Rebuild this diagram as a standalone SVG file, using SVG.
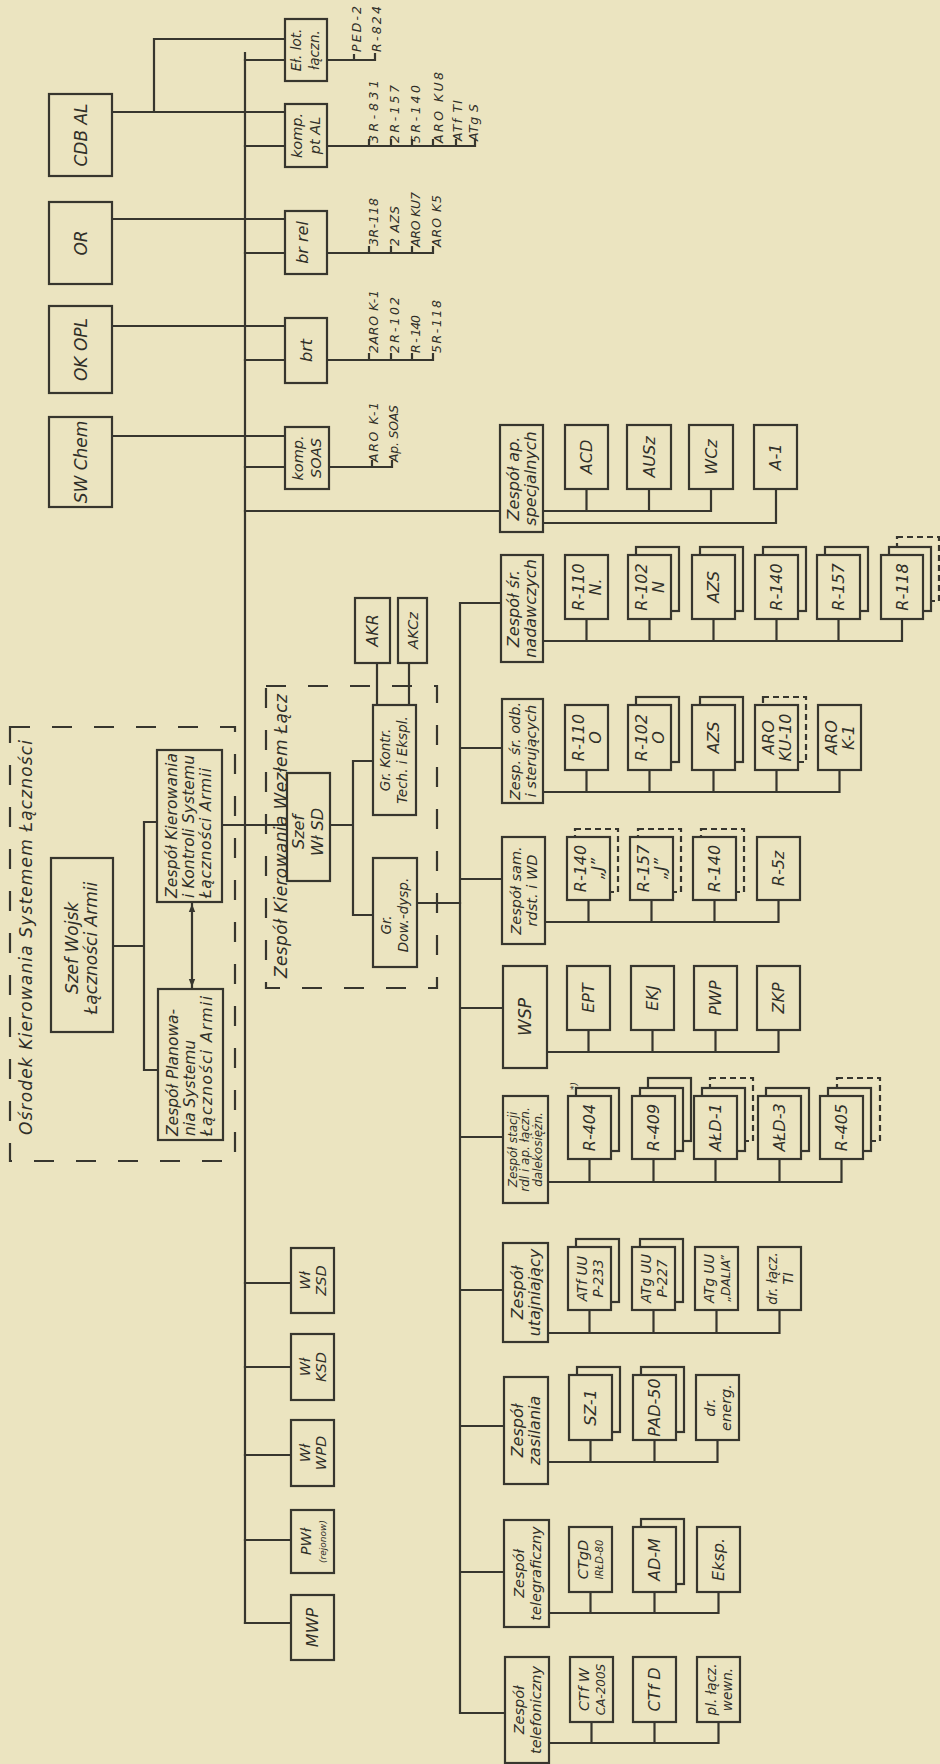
<svg xmlns="http://www.w3.org/2000/svg" width="940" height="1764" viewBox="0 0 940 1764">
<style>
.b{fill:#ebe4c0;stroke:#37362e;stroke-width:2.2}
.bd{fill:#ebe4c0;stroke:#37362e;stroke-width:2.2;stroke-dasharray:6 4}
.ln{fill:none;stroke:#37362e;stroke-width:2.2;stroke-linecap:square}
.dg{fill:none;stroke:#37362e;stroke-width:2.2;stroke-dasharray:20 22}
.t{font-family:"DejaVu Sans","Liberation Sans",sans-serif;font-style:italic;fill:#302f28;text-anchor:middle}
.st{text-anchor:start}
.s17{font-size:17px}.s16{font-size:16px}.s15{font-size:16px}.s14{font-size:14.5px}.s13{font-size:13.5px}.s12{font-size:12px}.s11{font-size:12.5px}.s10{font-size:10px}.s9{font-size:9px}
.k{font-size:15.5px}
</style>
<defs>
<marker id="ah" viewBox="0 0 10 10" refX="10" refY="5" markerWidth="8" markerHeight="8" markerUnits="userSpaceOnUse" orient="auto-start-reverse"><path d="M0,1 L10,5 L0,9 z" fill="#37362e"/></marker>
</defs>
<rect x="0" y="0" width="940" height="1764" fill="#ebe4c0"/>

<g id="connectors">
<path class="ln" d="M245 53 V1623"/>
<path class="ln" d="M154 112 V39 H285 M112 112 H285 M245 60 H285 M245 146 H285 M112 219 H285 M245 253 H285 M112 326 H285 M245 360 H285 M112 436 H285 M245 467 H285 M245 511 H500"/>
<path class="ln" d="M327 60 H375 V54 M354 60 V55"/>
<path class="ln" d="M326 146 H475 V140 M369 146 V140 M391 146 V140 M412 146 V140 M433 146 V140 M456 146 V140"/>
<path class="ln" d="M327 253 H433 V247 M369 253 V247 M391 253 V247 M412 253 V247"/>
<path class="ln" d="M327 360 H433 V354 M369 360 V354 M391 360 V354 M412 360 V354"/>
<path class="ln" d="M329 467 H392 V461 M372 467 V461"/>
<path class="ln" d="M113 946 H144 M144 822 V1070 M144 822 H157 M144 1070 H158 M222 825 H287"/>
<path class="ln" d="M192 904 V987" marker-start="url(#ah)" marker-end="url(#ah)"/>
<path class="ln" d="M330 825 H353 M353 761 V915 M353 761 H373 M353 915 H373 M417 903 H460 M377 663 V705 M409 663 V705"/>
<path class="ln" d="M460 603 V1713 M460 603 H501 M460 748 H502 M460 879 H502 M460 1008 H503 M460 1137 H503 M460 1290 H503 M460 1426 H504 M460 1572 H504 M460 1713 H505"/>
<path class="ln" d="M543 511 H711 M586.5 489 V511 M649 489 V511 M711 489 V511 M543 523 H776 M776 489 V523"/>
<path class="ln" d="M543 641 H902 M586.5 619 V641 M649.5 619 V641 M713.5 619 V641 M776.5 619 V641 M838.5 619 V641 M902 619 V641"/>
<path class="ln" d="M543 792 H839.5 M586.5 770 V792 M649.5 770 V792 M713.5 770 V792 M776.5 770 V792 M839.5 770 V792"/>
<path class="ln" d="M545 922 H778.5 M588.5 900 V922 M651.5 900 V922 M714.5 900 V922 M778.5 900 V922"/>
<path class="ln" d="M547 1052 H778.5 M588.5 1030 V1052 M652.5 1030 V1052 M715.5 1030 V1052 M778.5 1030 V1052"/>
<path class="ln" d="M548 1182 H841.5 M589.5 1159 V1182 M653.5 1159 V1182 M715.5 1159 V1182 M779.5 1159 V1182 M841.5 1159 V1182"/>
<path class="ln" d="M548 1333 H779.5 M589.5 1310 V1333 M653.5 1310 V1333 M716.5 1310 V1333 M779.5 1310 V1333"/>
<path class="ln" d="M548 1462 H717.5 M590.5 1440 V1462 M654.5 1440 V1462 M717.5 1440 V1462"/>
<path class="ln" d="M549 1613 H718.5 M590.5 1592 V1613 M654.5 1592 V1613 M718.5 1592 V1613"/>
<path class="ln" d="M549 1743 H718.5 M591.5 1722 V1743 M654.5 1722 V1743 M718.5 1722 V1743"/>
<path class="ln" d="M245 1283 H291 M245 1367 H291 M245 1455 H291 M245 1540 H291 M245 1623 H291"/>
</g>

<g id="grp-osrodek">
<rect class="dg" x="10" y="727" width="225" height="434"/>
<text class="t st s17" transform="translate(32 1135) rotate(-90)" textLength="395">Ośrodek Kierowania Systemem Łączności</text>
</g>
<g id="grp-wezel">
<rect class="dg" x="266" y="686" width="171" height="302"/>
<text class="t st s17" transform="translate(287 978) rotate(-90)" textLength="284">Zespół Kierowania Węzłem Łącz</text>
</g>

<g id="lists">
<text class="t st s11" transform="translate(361 52) rotate(-90)" textLength="46">PED-2</text>
<text class="t st s11" transform="translate(381 52) rotate(-90)" textLength="46">R-824</text>
<text class="t st s11" transform="translate(378 143) rotate(-90)" textLength="63">3R-831</text>
<text class="t st s11" transform="translate(399 143) rotate(-90)" textLength="58">2R-157</text>
<text class="t st s11" transform="translate(420 143) rotate(-90)" textLength="58">5R-140</text>
<text class="t st s11" transform="translate(443 143) rotate(-90)" textLength="71">ARO KU8</text>
<text class="t st s11" transform="translate(462 141) rotate(-90)" textLength="41">ATf TI</text>
<text class="t st s11" transform="translate(478 141) rotate(-90)" textLength="37">ATg S</text>
<text class="t st s11" transform="translate(378 246) rotate(-90)" textLength="48">3R-118</text>
<text class="t st s11" transform="translate(399 246) rotate(-90)" textLength="40">2 AZS</text>
<text class="t st s11" transform="translate(420 247) rotate(-90)" textLength="55">ARO KU7</text>
<text class="t st s11" transform="translate(441 247) rotate(-90)" textLength="52">ARO K5</text>
<text class="t st s11" transform="translate(378 353) rotate(-90)" textLength="63">2ARO K-1</text>
<text class="t st s11" transform="translate(399 353) rotate(-90)" textLength="56">2R-102</text>
<text class="t st s11" transform="translate(420 353) rotate(-90)" textLength="38">R - 140</text>
<text class="t st s11" transform="translate(441 353) rotate(-90)" textLength="53">5R-118</text>
<text class="t st s11" transform="translate(378 462) rotate(-90)" textLength="60">ARO K-1</text>
<text class="t st s11" transform="translate(398 462) rotate(-90)" textLength="57">Ap. SOAS</text>
</g>

<g id="n-cdbal"><rect class="b" x="49" y="94" width="63" height="82"/><text class="t s17" transform="translate(81 135) rotate(-90)" y="6">CDB AL</text></g>
<g id="n-or"><rect class="b" x="49" y="202" width="63" height="82"/><text class="t s17" transform="translate(81 243) rotate(-90)" y="6">OR</text></g>
<g id="n-okopl"><rect class="b" x="49" y="306" width="63" height="87"/><text class="t s17" transform="translate(81 349.5) rotate(-90)" y="6">OK OPL</text></g>
<g id="n-swchem"><rect class="b" x="49" y="417" width="63" height="90"/><text class="t s17" transform="translate(81 462) rotate(-90)" y="6">SW Chem</text></g>

<g id="n-ellot"><rect class="b" x="285" y="19" width="42" height="62"/><text class="t s13" transform="translate(306 50) rotate(-90)"><tspan x="0" y="-5.5">Eł. lot.</tspan><tspan x="0" y="12.5">łączn.</tspan></text></g>
<g id="n-komppt"><rect class="b" x="285" y="104" width="42" height="63"/><text class="t s14" transform="translate(306 135.5) rotate(-90)"><tspan x="0" y="-4">komp.</tspan><tspan x="0" y="13.5">pt AL</tspan></text></g>
<g id="n-brrel"><rect class="b" x="285" y="211" width="42" height="63"/><text class="t s15" transform="translate(306 242.5) rotate(-90)" y="2">br rel</text></g>
<g id="n-brt"><rect class="b" x="285" y="318" width="42" height="65"/><text class="t s16" transform="translate(306 350.5) rotate(-90)" y="5.5">brt</text></g>
<g id="n-kompsoas"><rect class="b" x="285" y="427" width="44" height="62"/><text class="t s14" transform="translate(307 458) rotate(-90)"><tspan x="0" y="-4">komp.</tspan><tspan x="0" y="13.5">SOAS</tspan></text></g>

<g id="n-szefwojsk"><rect class="b" x="51" y="858" width="62" height="174"/><text class="t s17" transform="translate(82 948) rotate(-90)"><tspan x="0" y="-4.5">Szef Wojsk</tspan><tspan x="0" y="15">Łączności Armii</tspan></text></g>
<g id="n-kierowania"><rect class="b" x="157" y="750" width="65" height="152"/><text class="t st k" transform="translate(189.5 898) rotate(-90)"><tspan x="0" y="-12.5" textLength="145">Zespół Kierowania</tspan><tspan x="0" y="4.5" textLength="143">i Kontroli Systemu</tspan><tspan x="0" y="21.5" textLength="130">Łączności Armii</tspan></text></g>
<g id="n-planowania"><rect class="b" x="158" y="989" width="65" height="151"/><text class="t st k" transform="translate(190.5 1136) rotate(-90)"><tspan x="0" y="-12.5">Zespół Planowa-</tspan><tspan x="0" y="4.5">nia Systemu</tspan><tspan x="0" y="21.5" textLength="140">Łączności Armii</tspan></text></g>

<g id="n-szefsd"><rect class="b" x="287" y="773" width="43" height="108"/><text class="t s15" transform="translate(309 832) rotate(-90)"><tspan x="0" y="-5">Szef</tspan><tspan x="0" y="14">Wł SD</tspan></text></g>
<g id="n-grkontr"><rect class="b" x="373" y="705" width="43" height="110"/><text class="t s13" transform="translate(394.5 760) rotate(-90)"><tspan x="0" y="-4.5">Gr. Kontr.</tspan><tspan x="0" y="12.5">Tech. i Ekspl.</tspan></text></g>
<g id="n-grdow"><rect class="b" x="373" y="858" width="44" height="109"/><text class="t s13" transform="translate(395 912) rotate(-90)"><tspan x="-13" y="-4.5">Gr.</tspan><tspan x="-3" y="12.5">Dow.-dysp.</tspan></text></g>
<g id="n-akr"><rect class="b" x="355" y="598" width="35" height="65"/><text class="t s15" transform="translate(372.5 630.5) rotate(-90)" y="5">AKR</text></g>
<g id="n-akcz"><rect class="b" x="398" y="598" width="29" height="65"/><text class="t s14" transform="translate(412.5 630.5) rotate(-90)" y="5">AKCz</text></g>

<g id="n-zap"><rect class="b" x="500" y="425" width="43" height="107"/><text class="t s15" transform="translate(521.5 478.5) rotate(-90)"><tspan x="0" y="-3">Zespół ap.</tspan><tspan x="0" y="14">specjalnych</tspan></text></g>
<g id="n-znad"><rect class="b" x="501" y="555" width="42" height="107"/><text class="t s15" transform="translate(522 608.5) rotate(-90)"><tspan x="0" y="-3">Zespół śr.</tspan><tspan x="0" y="14">nadawczych</tspan></text></g>
<g id="n-zodb"><rect class="b" x="502" y="699" width="41" height="104"/><text class="t s14" transform="translate(522.5 751) rotate(-90)"><tspan x="0" y="-3">Zesp. śr. odb.</tspan><tspan x="0" y="13.5">i sterujących</tspan></text></g>
<g id="n-zsam"><rect class="b" x="502" y="837" width="43" height="107"/><text class="t s14" transform="translate(523.5 890.5) rotate(-90)"><tspan x="0" y="-3">Zespół sam.</tspan><tspan x="0" y="13.5">rdst. i WD</tspan></text></g>
<g id="n-wsp"><rect class="b" x="503" y="966" width="44" height="102"/><text class="t s17" transform="translate(525 1017) rotate(-90)" y="6">WSP</text></g>
<g id="n-zstacji"><rect class="b" x="503" y="1096" width="45" height="107"/><text class="t s12" transform="translate(525.5 1149.5) rotate(-90)"><tspan x="0" y="-9">Zespół stacji</tspan><tspan x="0" y="3.5">rdl i ap. łączn.</tspan><tspan x="0" y="16">dalekosiężn.</tspan></text></g>
<g id="n-zutaj"><rect class="b" x="503" y="1243" width="45" height="99"/><text class="t s15" transform="translate(525.5 1292.5) rotate(-90)"><tspan x="0" y="-3">Zespół</tspan><tspan x="0" y="14">utajniający</tspan></text></g>
<g id="n-zzasil"><rect class="b" x="504" y="1377" width="44" height="107"/><text class="t s15" transform="translate(526 1430.5) rotate(-90)"><tspan x="0" y="-3">Zespół</tspan><tspan x="0" y="14">zasilania</tspan></text></g>
<g id="n-ztelegr"><rect class="b" x="504" y="1520" width="45" height="107"/><text class="t s14" transform="translate(526.5 1573.5) rotate(-90)"><tspan x="0" y="-3">Zespół</tspan><tspan x="0" y="14">telegraficzny</tspan></text></g>
<g id="n-ztelef"><rect class="b" x="505" y="1657" width="44" height="106"/><text class="t s14" transform="translate(527 1710) rotate(-90)"><tspan x="0" y="-3">Zespół</tspan><tspan x="0" y="14">telefoniczny</tspan></text></g>

<g id="n-acd"><rect class="b" x="565" y="425" width="43" height="64"/><text class="t s15" transform="translate(586.5 457) rotate(-90)" y="5.5">ACD</text></g>
<g id="n-ausz"><rect class="b" x="627" y="425" width="44" height="64"/><text class="t s15" transform="translate(649 457) rotate(-90)" y="5.5">AUSz</text></g>
<g id="n-wcz"><rect class="b" x="689" y="425" width="44" height="64"/><text class="t s15" transform="translate(711 457) rotate(-90)" y="5.5">WCz</text></g>
<g id="n-a1"><rect class="b" x="754" y="425" width="43" height="64"/><text class="t s15" transform="translate(775.5 457) rotate(-90)" y="5.5">A-1</text></g>

<g id="n-r110n"><rect class="b" x="565" y="555" width="43" height="64"/><text class="t s15" transform="translate(586.5 587) rotate(-90)"><tspan x="0" y="-3">R-110</tspan><tspan x="0" y="14">N.</tspan></text></g>
<g id="n-r102n"><rect class="b" x="636" y="547" width="43" height="64"/><rect class="b" x="628" y="555" width="43" height="64"/><text class="t s15" transform="translate(649.5 587) rotate(-90)"><tspan x="0" y="-3">R-102</tspan><tspan x="0" y="14">N</tspan></text></g>
<g id="n-azs1"><rect class="b" x="700" y="547" width="43" height="64"/><rect class="b" x="692" y="555" width="43" height="64"/><text class="t s15" transform="translate(713.5 587) rotate(-90)" y="5.5">AZS</text></g>
<g id="n-r140a"><rect class="b" x="763" y="547" width="43" height="64"/><rect class="b" x="755" y="555" width="43" height="64"/><text class="t s15" transform="translate(776.5 587) rotate(-90)" y="5.5">R-140</text></g>
<g id="n-r157a"><rect class="b" x="825" y="547" width="43" height="64"/><rect class="b" x="817" y="555" width="43" height="64"/><text class="t s15" transform="translate(838.5 587) rotate(-90)" y="5.5">R-157</text></g>
<g id="n-r118"><rect class="bd" x="897" y="537" width="42" height="64"/><rect class="b" x="889" y="547" width="42" height="64"/><rect class="b" x="881" y="555" width="42" height="64"/><text class="t s15" transform="translate(902 587) rotate(-90)" y="5.5">R-118</text></g>

<g id="n-r110o"><rect class="b" x="565" y="705" width="43" height="65"/><text class="t s15" transform="translate(586.5 737.5) rotate(-90)"><tspan x="0" y="-3">R-110</tspan><tspan x="0" y="14">O</tspan></text></g>
<g id="n-r102o"><rect class="b" x="636" y="697" width="43" height="65"/><rect class="b" x="628" y="705" width="43" height="65"/><text class="t s15" transform="translate(649.5 737.5) rotate(-90)"><tspan x="0" y="-3">R-102</tspan><tspan x="0" y="14">O</tspan></text></g>
<g id="n-azs2"><rect class="b" x="700" y="697" width="43" height="65"/><rect class="b" x="692" y="705" width="43" height="65"/><text class="t s15" transform="translate(713.5 737.5) rotate(-90)" y="5.5">AZS</text></g>
<g id="n-aroku10"><rect class="bd" x="763" y="697" width="43" height="65"/><rect class="b" x="755" y="705" width="43" height="65"/><text class="t s15" transform="translate(776.5 737.5) rotate(-90)"><tspan x="0" y="-3">ARO</tspan><tspan x="0" y="14">KU-10</tspan></text></g>
<g id="n-arok1"><rect class="b" x="818" y="705" width="43" height="65"/><text class="t s15" transform="translate(839.5 737.5) rotate(-90)"><tspan x="0" y="-3">ARO</tspan><tspan x="0" y="14">K-1</tspan></text></g>

<g id="n-r140j"><rect class="bd" x="575" y="829" width="43" height="63"/><rect class="b" x="567" y="837" width="43" height="63"/><text class="t s15" transform="translate(588.5 868.5) rotate(-90)"><tspan x="0" y="-3">R-140</tspan><tspan x="0" y="14">„J”</tspan></text></g>
<g id="n-r157j"><rect class="bd" x="638" y="829" width="43" height="63"/><rect class="b" x="630" y="837" width="43" height="63"/><text class="t s15" transform="translate(651.5 868.5) rotate(-90)"><tspan x="0" y="-3">R-157</tspan><tspan x="0" y="14">„J”</tspan></text></g>
<g id="n-r140b"><rect class="bd" x="701" y="829" width="43" height="63"/><rect class="b" x="693" y="837" width="43" height="63"/><text class="t s15" transform="translate(714.5 868.5) rotate(-90)" y="5.5">R-140</text></g>
<g id="n-r5z"><rect class="b" x="757" y="837" width="43" height="63"/><text class="t s15" transform="translate(778.5 868.5) rotate(-90)" y="5.5">R-5z</text></g>

<g id="n-ept"><rect class="b" x="567" y="966" width="43" height="64"/><text class="t s15" transform="translate(588.5 998) rotate(-90)" y="5.5">EPT</text></g>
<g id="n-ekj"><rect class="b" x="631" y="966" width="43" height="64"/><text class="t s15" transform="translate(652.5 998) rotate(-90)" y="5.5">EKJ</text></g>
<g id="n-pwp"><rect class="b" x="694" y="966" width="43" height="64"/><text class="t s15" transform="translate(715.5 998) rotate(-90)" y="5.5">PWP</text></g>
<g id="n-zkp"><rect class="b" x="757" y="966" width="43" height="64"/><text class="t s15" transform="translate(778.5 998) rotate(-90)" y="5.5">ZKP</text></g>

<g id="n-r404"><rect class="b" x="576" y="1088" width="43" height="63"/><rect class="b" x="568" y="1096" width="43" height="63"/><text class="t s15" transform="translate(589.5 1127.5) rotate(-90)" y="5.5">R-404</text><text class="t s9" transform="translate(574 1086) rotate(-90)" y="3">*)</text></g>
<g id="n-r409"><rect class="b" x="648" y="1078" width="43" height="63"/><rect class="b" x="640" y="1088" width="43" height="63"/><rect class="b" x="632" y="1096" width="43" height="63"/><text class="t s15" transform="translate(653.5 1127.5) rotate(-90)" y="5.5">R-409</text></g>
<g id="n-ald1"><rect class="bd" x="710" y="1078" width="43" height="63"/><rect class="b" x="702" y="1088" width="43" height="63"/><rect class="b" x="694" y="1096" width="43" height="63"/><text class="t s15" transform="translate(715.5 1127.5) rotate(-90)" y="5.5">AŁD-1</text></g>
<g id="n-ald3"><rect class="b" x="766" y="1088" width="43" height="63"/><rect class="b" x="758" y="1096" width="43" height="63"/><text class="t s15" transform="translate(779.5 1127.5) rotate(-90)" y="5.5">AŁD-3</text></g>
<g id="n-r405"><rect class="bd" x="837" y="1078" width="43" height="63"/><rect class="b" x="828" y="1088" width="43" height="63"/><rect class="b" x="820" y="1096" width="43" height="63"/><text class="t s15" transform="translate(841.5 1127.5) rotate(-90)" y="5.5">R-405</text></g>

<g id="n-p233"><rect class="b" x="576" y="1239" width="43" height="63"/><rect class="b" x="568" y="1247" width="43" height="63"/><text class="t s13" transform="translate(589.5 1278.5) rotate(-90)"><tspan x="0" y="-3">ATf UU</tspan><tspan x="0" y="13">P-233</tspan></text></g>
<g id="n-p227"><rect class="b" x="640" y="1239" width="43" height="63"/><rect class="b" x="632" y="1247" width="43" height="63"/><text class="t s13" transform="translate(653.5 1278.5) rotate(-90)"><tspan x="0" y="-3">ATg UU</tspan><tspan x="0" y="13">P-227</tspan></text></g>
<g id="n-dalia"><rect class="b" x="695" y="1247" width="43" height="63"/><text class="t s13" transform="translate(716.5 1278.5) rotate(-90)"><tspan x="0" y="-3">ATg UU</tspan><tspan class="s12" x="0" y="13">„DALIA”</tspan></text></g>
<g id="n-drlacz"><rect class="b" x="758" y="1247" width="43" height="63"/><text class="t s13" transform="translate(779.5 1278.5) rotate(-90)"><tspan x="0" y="-3">dr. łącz.</tspan><tspan x="0" y="13">TI</tspan></text></g>

<g id="n-sz1"><rect class="b" x="577" y="1367" width="43" height="65"/><rect class="b" x="569" y="1375" width="43" height="65"/><text class="t s15" transform="translate(590.5 1407.5) rotate(-90)" y="5.5">SZ-1</text></g>
<g id="n-pad50"><rect class="b" x="641" y="1367" width="43" height="65"/><rect class="b" x="633" y="1375" width="43" height="65"/><text class="t s15" transform="translate(654.5 1407.5) rotate(-90)" y="5.5">PAD-50</text></g>
<g id="n-drenerg"><rect class="b" x="696" y="1375" width="43" height="65"/><text class="t s14" transform="translate(717.5 1407.5) rotate(-90)"><tspan x="0" y="-3">dr.</tspan><tspan x="0" y="13.5">energ.</tspan></text></g>

<g id="n-ctgd"><rect class="b" x="569" y="1527" width="43" height="65"/><text class="t s14" transform="translate(590.5 1559.5) rotate(-90)"><tspan x="0" y="-3">CTgD</tspan><tspan class="s10" x="0" y="12.5">IRŁD-80</tspan></text></g>
<g id="n-adm"><rect class="b" x="641" y="1519" width="43" height="65"/><rect class="b" x="633" y="1527" width="43" height="65"/><text class="t s15" transform="translate(654.5 1559.5) rotate(-90)" y="5.5">AD-M</text></g>
<g id="n-eksp"><rect class="b" x="697" y="1527" width="43" height="65"/><text class="t s15" transform="translate(718.5 1559.5) rotate(-90)" y="5.5">Eksp.</text></g>

<g id="n-ctfw"><rect class="b" x="570" y="1657" width="43" height="65"/><text class="t s14" transform="translate(591.5 1689.5) rotate(-90)"><tspan x="0" y="-3">CTf W</tspan><tspan class="s12" x="0" y="13">CA-200S</tspan></text></g>
<g id="n-ctfd"><rect class="b" x="633" y="1657" width="43" height="65"/><text class="t s15" transform="translate(654.5 1689.5) rotate(-90)" y="5.5">CTf D</text></g>
<g id="n-pllacz"><rect class="b" x="697" y="1657" width="43" height="65"/><text class="t s13" transform="translate(718.5 1689.5) rotate(-90)"><tspan x="0" y="-3">pl. łącz.</tspan><tspan x="0" y="13">wewn.</tspan></text></g>

<g id="n-wlzsd"><rect class="b" x="291" y="1248" width="43" height="65"/><text class="t s14" transform="translate(312.5 1280.5) rotate(-90)"><tspan x="0" y="-3">Wł</tspan><tspan x="0" y="13.5">ZSD</tspan></text></g>
<g id="n-wlksd"><rect class="b" x="291" y="1334" width="43" height="66"/><text class="t s14" transform="translate(312.5 1367) rotate(-90)"><tspan x="0" y="-3">Wł</tspan><tspan x="0" y="13.5">KSD</tspan></text></g>
<g id="n-wlwpd"><rect class="b" x="291" y="1420" width="43" height="66"/><text class="t s14" transform="translate(312.5 1453) rotate(-90)"><tspan x="0" y="-3">Wł</tspan><tspan x="0" y="13.5">WPD</tspan></text></g>
<g id="n-pwl"><rect class="b" x="291" y="1510" width="43" height="63"/><text class="t s14" transform="translate(312.5 1541.5) rotate(-90)"><tspan x="0" y="-2">PWł</tspan><tspan class="s9" x="0" y="13">(rejonow)</tspan></text></g>
<g id="n-mwp"><rect class="b" x="291" y="1595" width="43" height="65"/><text class="t s15" transform="translate(312.5 1627.5) rotate(-90)" y="5.5">MWP</text></g>
</svg>
